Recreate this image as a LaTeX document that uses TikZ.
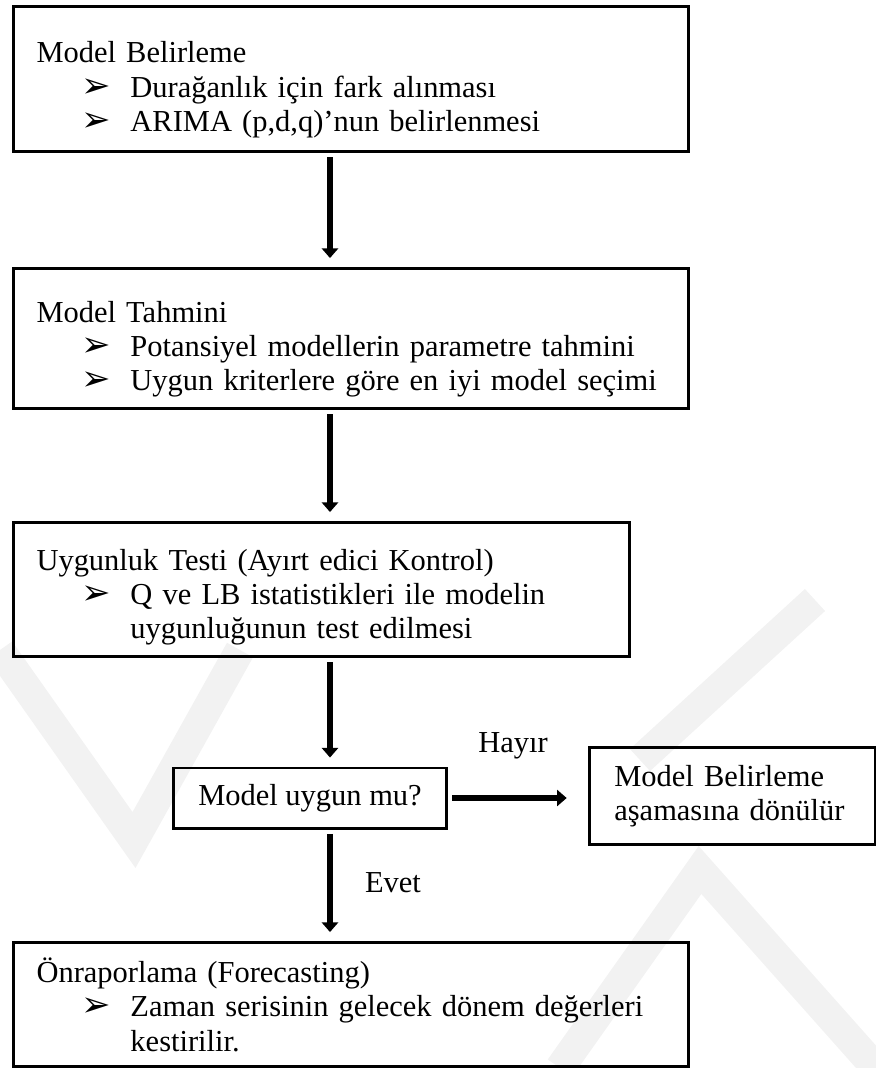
\documentclass[tikz,border=0pt]{standalone}
\usepackage{fontspec}
\setmainfont{Liberation Serif}
\newfontfamily\symfont{DejaVu Sans}
\usetikzlibrary{arrows.meta,calc,positioning}
\tikzset{>=latex}
\tikzset{
  stage/.style={draw, line width=1.4pt, anchor=north west, align=left,
    text width=10.38cm, inner xsep=0.38cm, inner ysep=0pt,
    font=\fontsize{14.3}{16.1}\selectfont},
  flow/.style={line width=3.2pt, shorten >=4.2pt, shorten <=2pt,
    -{Triangle[width=7.5pt,length=4.5pt]}},
  lbl/.style={font=\fontsize{14.3}{16.1}\selectfont},
  wmark/.style={draw=black!5, line width=14pt},
}
\newcommand{\bul}{\hspace*{0.74cm}\makebox[0.81cm][l]{\fontsize{16.5}{12}\symfont\char"27A2}}
\newcommand{\cont}{\hspace*{1.55cm}}
\newcommand{\padtop}[1]{\rule{0pt}{#1}}

\begin{document}
\begin{tikzpicture}[x=0.0165cm, y=-0.0165cm]
  \useasboundingbox (0,0) rectangle (876,1068);
  % faint watermark
  \draw[wmark] (0,650) -- (134,840) -- (240,650);
  \draw[wmark] (815,600) -- (640,760);
  \draw[wmark] (560,1068) -- (700,870) -- (876,1068);
  % stages
  \node[stage, minimum height=2.39cm] (ident) at (12,5)
    {\padtop{20pt}Model Belirleme\\
     \bul Durağanlık için fark alınması\\
     \bul ARIMA (p,d,q)’nun belirlenmesi};
  \node[stage, minimum height=2.31cm] (est) at (12,267)
    {\padtop{20pt}Model Tahmini\\
     \bul Potansiyel modellerin parametre tahmini\\
     \bul Uygun kriterlere göre en iyi model seçimi};
  \node[stage, text width=9.40cm, minimum height=2.21cm] (diag) at (12,521)
    {\padtop{17pt}Uygunluk Testi (Ayırt edici Kontrol)\\
     \bul Q ve LB istatistikleri ile modelin\\
     \cont uygunluğunun test edilmesi};
  \node[draw, line width=1.4pt, minimum width=4.5cm, minimum height=0.99cm,
    lbl] (check) at (310,798) {Model uygun mu?};
  \node[stage, text width=3.9cm, inner xsep=0.41cm, minimum height=1.6cm]
    (back) at (588,746)
    {Model Belirleme\\aşamasına dönülür};
  \node[stage, minimum height=2.05cm] (fcst) at (12,941)
    {Önraporlama (Forecasting)\\
     \bul Zaman serisinin gelecek dönem değerleri\\
     \cont kestirilir.};
  % labels
  \node[lbl] (no) at (513,746) {Hayır};
  \node[lbl] (yes) at (393,883) {Evet};
  % connectors
  \coordinate (spine) at (330,0);
  \draw[flow] (ident.south -| spine) -- (est.north -| spine);
  \draw[flow] (est.south -| spine) -- (diag.north -| spine);
  \draw[flow] (diag.south -| spine) -- (check.north -| spine);
  \draw[flow, shorten >=10pt] (check.east) -- (check.east -| back.west);
  \draw[flow] (check.south -| spine) -- (fcst.north -| spine);
\end{tikzpicture}
\end{document}
